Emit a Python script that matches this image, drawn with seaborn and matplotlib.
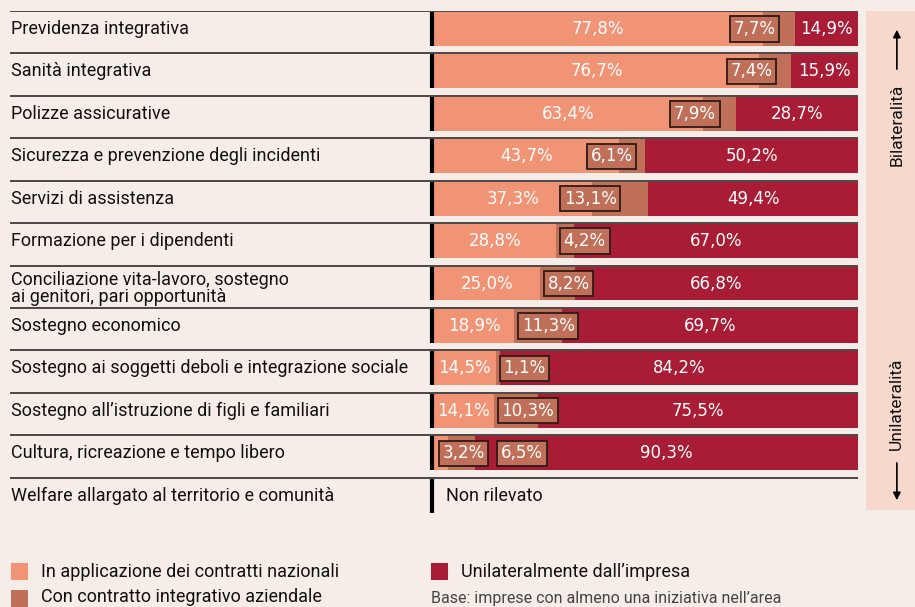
import pandas as pd
import matplotlib.pyplot as plt
from matplotlib.patches import Rectangle
import seaborn as sns

# data
categories = [
    "Previdenza integrativa",
    "Sanità integrativa",
    "Polizze assicurative",
    "Sicurezza e prevenzione degli incidenti",
    "Servizi di assistenza",
    "Formazione per i dipendenti",
    "Conciliazione vita-lavoro, sostegno\nai genitori, pari opportunità",
    "Sostegno economico",
    "Sostegno ai soggetti deboli e integrazione sociale",
    "Sostegno all’istruzione di figli e familiari",
    "Cultura, ricreazione e tempo libero",
]
nazionali = [77.8, 76.7, 63.4, 43.7, 37.3, 28.8, 25.0, 18.9, 14.5, 14.1, 3.2]
integrativo = [7.7, 7.4, 7.9, 6.1, 13.1, 4.2, 8.2, 11.3, 1.1, 10.3, 6.5]
unilaterale = [14.9, 15.9, 28.7, 50.2, 49.4, 67.0, 66.8, 69.7, 84.2, 75.5, 90.3]
extra_row = "Welfare allargato al territorio e comunità"
extra_text = "Non rilevato"

legend_labels = ["In applicazione dei contratti nazionali",
                 "Con contratto integrativo aziendale",
                 "Unilateralmente dall’impresa"]
note = "Base: imprese con almeno una iniziativa nell’area"

BG = "#F6EDE8"
PANEL = "#F6D9CC"
LIGHT = "#F19375"
MID = "#C06F58"
DARK = "#A81C35"

sns.set_style("white")
plt.rcParams["font.family"] = ["Roboto", "DejaVu Sans"]

W, H = 915, 607
NUM = ["DejaVu Sans"]

df = pd.DataFrame({"area": categories, "naz": nazionali,
                   "int": integrativo, "uni": unilaterale})
tot = df[["naz", "int", "uni"]].sum(axis=1)
df["s1"] = df["naz"] / tot * 100
df["s2"] = (df["naz"] + df["int"]) / tot * 100
df["s3"] = tot / tot * 100


def fmt(v):
    return f"{v:.1f}".replace(".", ",") + "%"


fig = plt.figure(figsize=(W / 100, H / 100), dpi=100, facecolor=BG)
ax = fig.add_axes([10 / W, 1 - 520 / H, 848 / W, 509 / H])
ax.set_facecolor(BG)

for col, c in [("s3", DARK), ("s2", MID), ("s1", LIGHT)]:
    sns.barplot(data=df, x=col, y="area", orient="h", color=c, saturation=1,
                width=0.8, errorbar=None, linewidth=0, ax=ax)

n = len(categories) + 1
ax.set_xlim(-100, 100)
ax.set_ylim(n - 0.425, -0.425)
ax.axis("off")

# row separators and black start marks
for i in range(n):
    ax.axhline(i - 0.425, color="#3b3b3b", lw=1.3)
    ax.plot([-0.5, -0.5], [i - 0.4, i + 0.4], color="black", lw=3,
            solid_capstyle="butt")

# row labels
for i, cat in enumerate(categories + [extra_row]):
    dy = 0.12 if "\n" in cat else 0
    ax.text(-99.8, i + dy, cat, ha="left", va="center", fontsize=13,
            color="#111111", linespacing=0.9)
ax.text(2.8, n - 1, extra_text, ha="left", va="center", fontsize=13,
        color="#111111")

box = dict(boxstyle="square,pad=0.22", fc=MID, ec="#2b1b16", lw=1.3)
for i, r in df.iterrows():
    # first segment
    if r["naz"] >= 10:
        ax.text(r["s1"] / 2, i, fmt(r["naz"]), ha="center", va="center",
                color="white", fontsize=12, family=NUM)
    else:
        ax.text(2.0, i, fmt(r["naz"]), ha="left", va="center",
                color="white", fontsize=12, family=NUM, bbox=box)
    # middle segment
    if r["naz"] > 30:
        xm = r["s1"] - 6.8
    else:
        xm = max(r["s1"] + 1.8, 15.8)
    ax.text(xm, i, fmt(r["int"]), ha="left", va="center", color="white",
            fontsize=12, family=NUM, bbox=box)
    # last segment
    ax.text(r["s2"] + (100 - r["s2"]) / 2, i, fmt(r["uni"]), ha="center",
            va="center", color="white", fontsize=12, family=NUM)

# right side panel
pax = fig.add_axes([866 / W, 1 - 510 / H, 49 / W, 499 / H])
pax.set_facecolor(PANEL)
pax.set_xticks([])
pax.set_yticks([])
for s in pax.spines.values():
    s.set_visible(False)
pax.text(0.63, 0.69, "Bilateralità", rotation=90, ha="center", va="bottom",
         fontsize=12.5, color="#111111")
pax.annotate("", xy=(0.63, 0.968), xytext=(0.63, 0.878),
             arrowprops=dict(arrowstyle="-|>", color="black", lw=1.2,
                             mutation_scale=11))
pax.text(0.63, 0.12, "Unilateralità", rotation=90, ha="center", va="bottom",
         fontsize=12.5, color="#111111")
pax.annotate("", xy=(0.63, 0.014), xytext=(0.63, 0.1),
             arrowprops=dict(arrowstyle="-|>", color="black", lw=1.2,
                             mutation_scale=11))

# legend
def square(px, py, c):
    fig.add_artist(Rectangle((px / W, 1 - (py + 17) / H), 17 / W, 17 / H,
                             transform=fig.transFigure, color=c, lw=0))


square(11, 563, LIGHT)
square(11, 590, MID)
square(431, 563, DARK)
fig.text(41 / W, 1 - 572 / H, legend_labels[0], ha="left", va="center",
         fontsize=13, color="#111111")
fig.text(41 / W, 1 - 597 / H, legend_labels[1], ha="left", va="center",
         fontsize=13, color="#111111")
fig.text(461 / W, 1 - 572 / H, legend_labels[2], ha="left", va="center",
         fontsize=13, color="#111111")
fig.text(431 / W, 1 - 598 / H, note, ha="left", va="center",
         fontsize=11.5, color="#444444")

fig.savefig("out.png", dpi=100, facecolor=BG)
